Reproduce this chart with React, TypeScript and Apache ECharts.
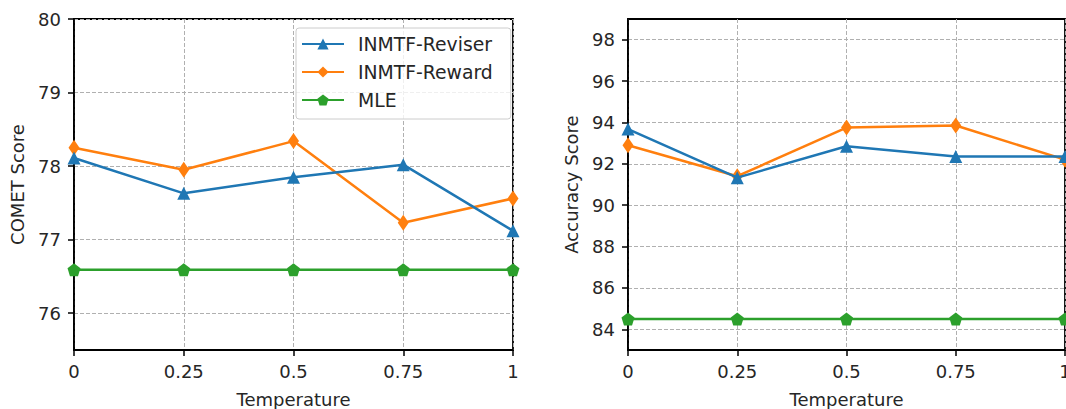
import React, { useEffect, useRef } from "react";
import * as echarts from "echarts";

const temps = [0, 0.25, 0.5, 0.75, 1];
const seriesNames = ["INMTF-Reviser", "INMTF-Reward", "MLE"];
const cometReviser = [78.11, 77.63, 77.85, 78.02, 77.12];
const cometReward = [78.25, 77.95, 78.34, 77.23, 77.56];
const cometMLE = [76.59, 76.59, 76.59, 76.59, 76.59];
const accReviser = [93.68, 91.33, 92.85, 92.35, 92.35];
const accReward = [92.9, 91.4, 93.75, 93.85, 92.2];
const accMLE = [84.5, 84.5, 84.5, 84.5, 84.5];
const cometTicks = [76, 77, 78, 79, 80];
const accTicks = [84, 86, 88, 90, 92, 94, 96, 98];
const xTicks = [0, 0.25, 0.5, 0.75, 1];

const colors = ["#1f77b4", "#ff7f0e", "#2ca02c"];
const pentagon =
  "path://M0,-1 L0.951,-0.309 L0.588,0.809 L-0.588,0.809 L-0.951,-0.309 Z";
const symbols = ["triangle", "diamond", pentagon];
const symbolSizes: any[] = [13, [11, 16], 13];
const FONT = "DejaVu Sans";
const TXT = "#262626";
const FS = 18;

function pairs(ys: number[]) {
  return temps.map((t, i) => [t, ys[i]]);
}

function xAxis(gridIndex: number) {
  return {
    type: "value",
    gridIndex,
    min: 0,
    max: 1,
    interval: 0.25,
    name: "Temperature",
    nameLocation: "middle",
    nameGap: 40,
    nameTextStyle: { fontFamily: FONT, fontSize: FS, color: TXT },
    axisLine: { show: true, lineStyle: { color: "#000", width: 1.8 } },
    axisTick: { show: true, inside: false, length: 6, lineStyle: { color: "#000", width: 1.5 }, customValues: xTicks },
    axisLabel: { fontFamily: FONT, fontSize: FS, color: TXT, margin: 12, customValues: xTicks },
    splitLine: { show: true, lineStyle: { color: "#b0b0b0", type: [4, 2], width: 1 } },
  };
}

function yAxis(gridIndex: number, min: number, max: number, ticks: number[], name: string) {
  return {
    type: "value",
    gridIndex,
    min,
    max,
    name,
    nameLocation: "middle",
    nameGap: 48,
    nameTextStyle: { fontFamily: FONT, fontSize: FS, color: TXT },
    axisLine: { show: true, lineStyle: { color: "#000", width: 1.8 } },
    axisTick: { show: true, inside: false, length: 6, lineStyle: { color: "#000", width: 1.5 }, customValues: ticks },
    axisLabel: { fontFamily: FONT, fontSize: FS, color: TXT, margin: 13, customValues: ticks },
    splitLine: { show: true, lineStyle: { color: "#b0b0b0", type: [4, 2], width: 1 } },
  };
}

function makeSeries(idx: number, gridIdx: number, data: number[]) {
  return {
    type: "line",
    name: seriesNames[idx],
    xAxisIndex: gridIdx,
    yAxisIndex: gridIdx,
    data: pairs(data),
    symbol: symbols[idx],
    symbolSize: symbolSizes[idx],
    showAllSymbol: true,
    clip: true,
    lineStyle: { color: colors[idx], width: 2.5 },
    itemStyle: { color: colors[idx] },
    z: 5 - idx,
  };
}

export default function App() {
  const ref = useRef<HTMLDivElement>(null);
  useEffect(() => {
    if (!ref.current) return;
    const chart = echarts.init(ref.current, undefined, { renderer: "svg" });
    chart.setOption({
      animation: false,
      backgroundColor: "#fff",
      grid: [
        { left: 74, top: 19, width: 439, height: 331, containLabel: false, outerBoundsMode: "none", show: true, borderColor: "#000", borderWidth: 1.8, backgroundColor: "transparent" },
        { left: 628, top: 19, width: 437, height: 331, containLabel: false, outerBoundsMode: "none", show: true, borderColor: "#000", borderWidth: 1.8, backgroundColor: "transparent" },
      ],
      xAxis: [xAxis(0), xAxis(1)],
      yAxis: [
        yAxis(0, 75.5, 80, cometTicks, "COMET Score"),
        yAxis(1, 83, 99, accTicks, "Accuracy Score"),
      ],
      legend: {
        orient: "vertical",
        left: 296,
        top: 28,
        padding: [6, 18, 9, 5],
        itemWidth: 42,
        itemHeight: 14,
        itemGap: 8,
        backgroundColor: "rgba(255,255,255,0.8)",
        borderColor: "#cccccc",
        borderWidth: 1,
        borderRadius: 3,
        data: seriesNames,
        textStyle: { fontFamily: FONT, fontSize: 18.8, color: TXT, lineHeight: 20, padding: [0, 0, 0, 9] },
      },
      series: [
        makeSeries(0, 0, cometReviser),
        makeSeries(1, 0, cometReward),
        makeSeries(2, 0, cometMLE),
        makeSeries(0, 1, accReviser),
        makeSeries(1, 1, accReward),
        makeSeries(2, 1, accMLE),
      ],
    });
    return () => chart.dispose();
  }, []);
  return (
    <div
      ref={ref}
      style={{ position: "fixed", left: 0, top: 0, width: 1066, height: 409 }}
    />
  );
}
